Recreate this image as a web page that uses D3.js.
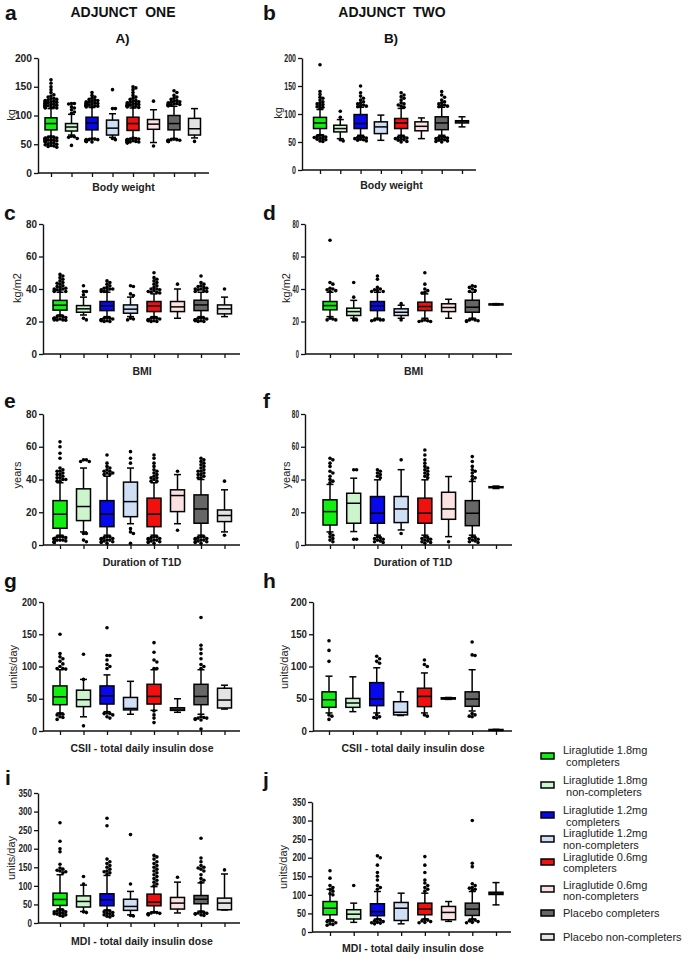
<!DOCTYPE html>
<html>
<head>
<meta charset="utf-8">
<script src="https://cdn.jsdelivr.net/npm/d3@7"></script>
<style>
  body { margin: 0; background: #fff; }
  svg { display: block; font-family: "Liberation Sans", Arial, sans-serif; }
</style>
</head>
<body>
<svg id="chart" width="688" height="962"></svg>
<script>
// groups, in plotting order
const groups = [
  "Liraglutide 1.8mg completers", "Liraglutide 1.8mg non-completers",
  "Liraglutide 1.2mg completers", "Liraglutide 1.2mg non-completers",
  "Liraglutide 0.6mg completers", "Liraglutide 0.6mg non-completers",
  "Placebo completers", "Placebo non-completers"
];
const fills = ["#12ee12", "#cdf5cd", "#0808ee", "#cfe0f6", "#f01010", "#fbe1e1", "#676767", "#e4e4e4"];

// box stats per group: [whisker low, q1, median, q3, whisker high]
// a) body weight, adjunct one
const bwOneStats = [[64,75,86,96,112],[66,73,80,86,102],[60,75,87,97,114],[62,66,78,92,103],
                    [60,74,86,97,113],[53,76,85,93,110],[60,75,86,100,116],[61,66,77,95,112]];
const bwOneOut = [
  [113,113,114,114,115,115,116,116,117,117,118,118,119,119,120,120,121,121,122,122,123,124,124,125,125,126,127,128,129,130,132,134,136,140,145,150,156,162,
   63,62,62,61,61,60,60,59,59,58,58,57,57,56,56,55,55,54,53,52,51,50,49,48,47,46,45],
  [104,106,110,113,115,120,121,121,63,62,64,60,48],
  [115,115,116,116,117,117,118,118,119,119,120,120,121,121,122,122,123,124,125,126,127,128,130,132,135,140,
   59,59,58,58,57,57,56,56,55,55,55,54,56,58,57],
  [145,112,112,60,58],
  [114,115,115,116,116,117,117,118,118,119,120,120,121,122,123,124,125,126,128,130,132,135,140,145,148,150,
   61,60,59,59,58,58,57,57,56,56,55,55,54,54,53,52,55,57],
  [125,47],
  [117,117,118,118,119,119,120,120,121,122,123,124,125,126,128,130,132,135,140,143,
   59,58,58,57,57,56,56,55,55,55,56,57],
  [55]
];
// b) body weight, adjunct two
const bwTwoStats = [[63,74,84,94,108],[56,68,74,80,90],[62,74,83,99,112],[53,65,77,86,98],
                    [62,74,84,92,110],[56,70,78,86,93],[62,72,84,95,112],[77,84,86,88,95]];
const bwTwoOut = [
  [110,112,113,115,117,118,120,122,125,128,130,135,140,188,62,61,60,59,58,57,56,55,54,52,51],
  [105,94,54,52],
  [113,114,115,116,118,120,122,125,128,132,138,150,60,59,58,57,56,55,54,53,52],
  [],
  [112,114,116,118,120,125,128,131,134,138,60,59,58,57,56,55,54,53,51,50],
  [],
  [113,114,115,116,118,120,122,125,130,134,140,60,59,58,57,56,55,54,53,52,51,50],
  []
];
// c) BMI, adjunct one
const bmiOneStats = [[24,27,30,33,38],[24,25.7,27.8,29.8,35],[23,26.7,29.6,32.3,38],[23,25.1,27.6,30.2,35],
                     [23,26.1,29.6,32.3,37],[22,26.1,29,32.3,40],[23,26.7,30.2,33.1,38],[23,24.7,27.8,30.2,35]];
const bmiOneOut = [
  [38.5,38.5,39,39,39.5,40,40,40.5,41,41.5,42,43,43.5,44,45,46,47,48,49,23.5,23,23,22.5,22,22,21.5,21.5,21,21,20.8,21,22],
  [42,38.5,38.5,36.5,22,21],
  [38.5,38.5,39,39.5,40,40,40.5,41,42,43,44,45,22.5,22,22,21.5,21,21,20.5,20.5,20,20,21],
  [42,41.5,37,36,22,21.5,21],
  [37.5,38,38,38.5,39,39.5,40,40,41,42,43,44,45,46,47,50,22.5,22,22,21.5,21,21,20.5,20.5,20,20,21],
  [43],
  [38.5,38.5,39,39.5,40,40,40.5,41,41.5,42,43,44,48,22.5,22,22,21.5,21,21,20.5,20.5,20,20,21],
  [40]
];
// d) BMI, adjunct two
const bmiTwoStats = [[23,27.2,29.8,32.3,38],[22,23.7,26.1,28.2,33],[22,26.7,29.6,32.3,38],[22,23.7,25.7,27.8,30],
                     [22,26.7,29.2,31.9,37],[22,26.1,28.6,30.9,33.7],[22,25.7,28.8,33.1,38],[30.2,30.4,30.6,30.8,31]];
const bmiTwoOut = [
  [70,44,43,38.5,39,39.5,40,40.5,22,21.5,21,21],
  [44,35,21,21],
  [48,46,41,40,39.5,39,38.5,38.5,21.5,21,21,21,20.5],
  [31,21],
  [50,43,40,39,38,37.5,21,20.5,20.5,20,20],
  [],
  [42,41.5,41,40,39,38.5,21.5,21,21,20.5,20.5,20],
  []
];
// e) duration of T1D, adjunct one
const durOneStats = [[6,10.2,18.8,27.1,38],[8,14.9,23.5,34.3,47],[6,11.2,18.8,27.1,42],[13,17.3,26.5,38.4,47],
                     [6,11.2,18.8,28.6,38],[13,20.4,30.2,33.7,43],[6,13.3,22,30.6,40],[8,14.3,18,21.4,33.7]];
const durOneOut = [
  [39,39,40,40,41,41,42,43,43,44,45,45,46,47,53,56,60,63,5,5,4.5,4,4,3.5,3,3,2.5,2,2,1.5,5,4,3,2,1.5],
  [52,52,51,51,7,7,3,2],
  [43,43,44,44,45,45,46,47,48,50,55,5,5,4.5,4,4,3.5,3,3,2.5,2,2,1.5,1],
  [57,53,50,10,8,7,1],
  [39,39,40,41,41,42,43,44,45,46,48,50,53,55,5,5,4.5,4,4,3.5,3,3,2.5,2,2,1.5,1],
  [45,9],
  [41,41,42,43,43,44,45,45,46,47,48,49,50,51,52,53,5,5,4.5,4,4,3.5,3,3,2.5,2,2,1.5,1],
  [39,6]
];
// f) duration of T1D, adjunct two
const durTwoStats = [[8,12.2,20.4,27.6,37],[8.2,13.3,25.5,31.6,40.8],[6,13.3,19.4,29.6,39.8],[9.2,13.7,22,29.6,46],
                     [6,13.3,19.4,28.6,39.8],[5.1,15.7,22,32.2,41.8],[6,11.8,19.4,27.1,38.8],[34.5,35,35.3,35.6,36]];
const durTwoOut = [
  [38,39,40,42,44,45,48,50,52,53,7,6,5,4,3,2],
  [46,46,3.5,3.5],
  [41,42,43,44,45,46,5,4.5,4,3.5,3,2.5,2,1.5],
  [52,7],
  [41,42,43,44,45,46,47,48,50,52,55,58,5,4.5,4,3.5,3,2.5,2,1.5,1],
  [2],
  [40,41,42,44,45,46,48,51,54,5,4.5,4,3.5,3,2.5,2,1.5],
  []
];
// g) CSII total daily insulin dose, adjunct one
const csiiOneStats = [[28,40.8,53,69.9,95],[22,37.8,48.5,63.3,80],[30,41.8,54.6,69.9,87],[26,32.7,35,52,77],
                      [32,41.8,53.6,72.4,95],[29,32,34,36,50],[26,40.8,53.6,72.4,95],[34,35.7,48,66.3,71]];
const csiiOneOut = [
  [150,120,115,112,108,104,100,97,97,96,27,26,25,22,21,18],
  [119,80,8],
  [160,117,117,110,103,100,97,28,27,27,25,22,20],
  [],
  [137,122,110,107,97,97,31,25,20,13],
  [],
  [176,133,127,120,112,103,100,97,22,21,20,20,19,18,17,3],
  []
];
// h) CSII total daily insulin dose, adjunct two
const csiiTwoStats = [[28,36.7,48.5,60.7,85],[30,36.7,43.4,50.5,84],[28,39.3,49.5,75,98],[24,25,29,45.4,60.7],
                      [28,37.8,53.6,66.3,90],[49,49.5,50.5,51.5,52],[31,38.3,49.5,60.7,95],[1.5,1.8,2,2.3,2.5]];
const csiiTwoOut = [
  [140,125,108,25,23,18],
  [],
  [116,112,108,105,25,22,21,20],
  [],
  [110,103,100,25,23],
  [],
  [138,118,117,27,25,23,22],
  []
];
// i) MDI total daily insulin dose, adjunct one
const mdiOneStats = [[38,47.3,63.4,80.4,130],[31,43,58,73,102],[35,46.4,62.5,78.6,128],[22,34,44.6,64,85],
                     [30,46.4,56,77.7,98],[27,37.5,53.6,68.8,110],[32,51.8,64,74,108],[35,35.7,53.6,67,132]];
const mdiOneOut = [
  [270,220,200,192,158,148,145,142,140,138,135,36,34,32,30,28,26,24,22,20,18,30,25],
  [125,105,30,28],
  [282,262,172,165,160,155,150,145,140,138,135,132,34,32,30,28,26,24,22,20,18,16],
  [238,105,20,19],
  [182,178,172,165,160,155,150,145,140,135,130,125,120,115,110,105,100,29,28,27,26,25,24,23,22],
  [123],
  [228,175,165,155,150,148,145,140,130,120,115,110,30,28,27,26,25,24,22,20],
  [143]
];
// j) MDI total daily insulin dose, adjunct two
const mdiTwoStats = [[33,46.4,64,82,115],[26,35,48,60,77.7],[35,43.8,55,76,109],[22,31,64,79.5,104.5],
                     [35,46.4,61.6,77.7,104.5],[28.6,33,52.7,68.8,82],[35,44.6,61.6,77.7,109],[73,101,104.5,107,133]];
const mdiTwoOut = [
  [165,145,125,120,115,110,103,100,31,30,28,25,22,20,18],
  [125],
  [205,200,180,160,150,140,125,120,115,34,32,30,28,26,25,24,22],
  [],
  [203,180,160,140,132,125,120,115,110,34,32,30,28,26,25],
  [],
  [300,185,176,130,125,120,118,115,112,34,32,30,28,26,25],
  []
];

const legendLines = [
  ["Liraglutide 1.8mg", " completers"], ["Liraglutide 1.8mg", " non-completers"],
  ["Liraglutide 1.2mg", " completers"], ["Liraglutide 1.2mg", "non-completers"],
  ["Liraglutide 0.6mg", "completers"], ["Liraglutide 0.6mg", "non-completers"],
  ["Placebo completers"], ["Placebo non-completers"]
];

// panel layout (cw = width per tick-label character)
const panels = [
  {L:'a', stats:bwOneStats, out:bwOneOut, max:200, ticks:[0,50,100,150,200], unit:'kg', title:'Body weight',
   ax:38, x0:51, x1:194.5, xEnd:209, yTop:58, yBot:173, bw:12, lx:5, ly:20, ux:11, uy:115, tx:123.5, ty:191, cw:5.7},
  {L:'b', stats:bwTwoStats, out:bwTwoOut, max:200, ticks:[0,50,100,150,200], unit:'kg', title:'Body weight',
   ax:302, x0:320, x1:462, xEnd:476, yTop:58, yBot:170, bw:13, lx:263, ly:20, ux:278, uy:113, tx:391.5, ty:189, cw:3.9},
  {L:'c', stats:bmiOneStats, out:bmiOneOut, max:80, ticks:[0,20,40,60,80], unit:'kg/m2', title:'BMI',
   ax:43, x0:60, x1:224.5, xEnd:240, yTop:224, yBot:354, bw:14, lx:4, ly:220, ux:17, uy:288, tx:142, ty:375, cw:5.5},
  {L:'d', stats:bmiTwoStats, out:bmiTwoOut, max:80, ticks:[0,20,40,60,80], unit:'kg/m2', title:'BMI',
   ax:305, x0:330, x1:496, xEnd:512, yTop:224, yBot:354, bw:14, lx:263, ly:220, ux:286, uy:288, tx:413.5, ty:375, cw:3.2},
  {L:'e', stats:durOneStats, out:durOneOut, max:80, ticks:[0,20,40,60,80], unit:'years', title:'Duration of T1D',
   ax:43, x0:60, x1:224.5, xEnd:240, yTop:414, yBot:545, bw:14, lx:4, ly:408, ux:17, uy:475, tx:142, ty:566, cw:5.5},
  {L:'f', stats:durTwoStats, out:durTwoOut, max:80, ticks:[0,20,40,60,80], unit:'years', title:'Duration of T1D',
   ax:305, x0:330, x1:496, xEnd:512, yTop:414, yBot:545, bw:14, lx:263, ly:408, ux:286, uy:475, tx:413, ty:566, cw:3.6},
  {L:'g', stats:csiiOneStats, out:csiiOneOut, max:200, ticks:[0,50,100,150,200], unit:'units/day', title:'CSII - total daily insulin dose',
   ax:43, x0:60, x1:224.5, xEnd:240, yTop:602, yBot:731, bw:14, lx:4, ly:588, ux:13, uy:667, tx:142, ty:752, cw:5},
  {L:'h', stats:csiiTwoStats, out:csiiTwoOut, max:200, ticks:[0,50,100,150,200], unit:'units/day', title:'CSII - total daily insulin dose',
   ax:313, x0:329, x1:496, xEnd:512, yTop:602, yBot:731, bw:14, lx:263, ly:588, ux:284, uy:667, tx:413, ty:752, cw:5.4},
  {L:'i', stats:mdiOneStats, out:mdiOneOut, max:350, ticks:[0,50,100,150,200,250,300,350], unit:'units/day', title:'MDI - total daily insulin dose',
   ax:38, x0:60, x1:224.5, xEnd:240, yTop:793, yBot:923, bw:14, lx:5, ly:785, ux:11, uy:858, tx:142, ty:945, cw:4.5},
  {L:'j', stats:mdiTwoStats, out:mdiTwoOut, max:350, ticks:[0,50,100,150,200,250,300,350], unit:'units/day', title:'MDI - total daily insulin dose',
   ax:312, x0:330, x1:496, xEnd:511, yTop:802, yBot:932, bw:14, lx:263, ly:787, ux:283, uy:867, tx:413, ty:952, cw:4.5}
];

const svg = d3.select('#chart');
const R = 1.8;

// simple beeswarm offsets for the outlier dots of one box
function swarm(vals, y, maxDx) {
  const placed = [];
  const pts = vals.map(v => ({v, py: y(v)})).sort((a, b) => a.py - b.py);
  pts.forEach(p => {
    let dx = 0;
    for (let k = 0; k < 30; k++) {
      const c = (k % 2 ? 1 : -1) * Math.ceil(k / 2) * R * 1.6;
      if (Math.abs(c) > maxDx) break;
      const hit = placed.some(q => Math.abs(q.py - p.py) < R * 1.5 && Math.abs(q.dx - c) < R * 1.5);
      dx = c;
      if (!hit) break;
    }
    p.dx = dx;
    placed.push(p);
  });
  return pts;
}

panels.forEach(p => {
  const y = d3.scaleLinear().domain([0, p.max]).range([p.yBot, p.yTop]);
  const x = d3.scalePoint().domain(d3.range(groups.length)).range([p.x0, p.x1]);
  const g = svg.append('g');

  // y axis
  const ya = g.append('g')
    .attr('transform', `translate(${p.ax},0)`)
    .call(d3.axisLeft(y).tickValues(p.ticks).tickSize(4).tickSizeOuter(0).tickPadding(2));
  ya.select('.domain').attr('stroke', '#111').attr('stroke-width', 1.4);
  ya.selectAll('.tick line').attr('stroke', '#111').attr('stroke-width', 1.3);
  ya.selectAll('.tick text').attr('font-size', 10).attr('font-weight', 'bold').attr('fill', '#222')
    .attr('font-family', '"Liberation Sans", Arial, sans-serif')
    .attr('textLength', d => String(d).length * p.cw).attr('lengthAdjust', 'spacingAndGlyphs');

  // x axis
  const xa = g.append('g')
    .attr('transform', `translate(0,${p.yBot})`)
    .call(d3.axisBottom(x).tickSize(4).tickSizeOuter(0).tickFormat(''));
  xa.select('.domain').remove();
  xa.selectAll('.tick line').attr('stroke', '#111').attr('stroke-width', 1.3);
  g.append('line').attr('x1', p.ax).attr('x2', p.xEnd).attr('y1', p.yBot).attr('y2', p.yBot)
    .attr('stroke', '#111').attr('stroke-width', 1.4);

  // boxes
  const box = g.selectAll('g.box').data(p.stats).join('g').attr('class', 'box')
    .attr('transform', (d, i) => `translate(${x(i)},0)`);
  const cap = 3.5;
  box.append('line').attr('y1', d => y(d[0])).attr('y2', d => y(d[4]))
    .attr('stroke', '#000').attr('stroke-width', 1.5);
  box.append('line').attr('x1', -cap).attr('x2', cap).attr('y1', d => y(d[0])).attr('y2', d => y(d[0]))
    .attr('stroke', '#000').attr('stroke-width', 1.5);
  box.append('line').attr('x1', -cap).attr('x2', cap).attr('y1', d => y(d[4])).attr('y2', d => y(d[4]))
    .attr('stroke', '#000').attr('stroke-width', 1.5);
  box.append('rect')
    .attr('x', -p.bw / 2).attr('width', p.bw)
    .attr('y', d => y(d[3])).attr('height', d => Math.max(1, y(d[1]) - y(d[3])))
    .attr('fill', (d, i) => fills[i]).attr('stroke', '#000').attr('stroke-width', 1.5);
  box.append('line').attr('x1', -p.bw / 2).attr('x2', p.bw / 2)
    .attr('y1', d => y(d[2])).attr('y2', d => y(d[2]))
    .attr('stroke', '#000').attr('stroke-width', 1.5);

  // outliers
  p.out.forEach((vals, i) => {
    const pts = swarm(vals, y, p.bw / 2);
    g.selectAll(null).data(pts).join('circle')
      .attr('cx', d => x(i) + d.dx).attr('cy', d => d.py).attr('r', R).attr('fill', '#000');
  });

  // labels
  g.append('text').attr('x', p.lx).attr('y', p.ly).attr('font-size', 21).attr('font-weight', 'bold')
    .attr('fill', '#111').text(p.L);
  g.append('text').attr('transform', `translate(${p.ux},${p.uy}) rotate(-90)`)
    .attr('text-anchor', 'middle').attr('dy', '0.35em').attr('font-size', 11).attr('fill', '#222').text(p.unit);
  g.append('text').attr('x', p.tx).attr('y', p.ty).attr('text-anchor', 'middle')
    .attr('font-size', 10.5).attr('font-weight', 'bold').attr('fill', '#222').text(p.title);
});

// column headers
svg.append('text').attr('x', 123).attr('y', 17).attr('text-anchor', 'middle').style('white-space', 'pre')
  .attr('font-size', 14).attr('font-weight', 'bold').attr('fill', '#111').text('ADJUNCT  ONE');
svg.append('text').attr('x', 122.5).attr('y', 43).attr('text-anchor', 'middle')
  .attr('font-size', 13.5).attr('font-weight', 'bold').attr('fill', '#111').text('A)');
svg.append('text').attr('x', 392).attr('y', 17).attr('text-anchor', 'middle').style('white-space', 'pre')
  .attr('font-size', 14).attr('font-weight', 'bold').attr('fill', '#111').text('ADJUNCT  TWO');
svg.append('text').attr('x', 391).attr('y', 43).attr('text-anchor', 'middle')
  .attr('font-size', 13.5).attr('font-weight', 'bold').attr('fill', '#111').text('B)');

// legend
const swatchY = [756, 785, 815, 839, 862, 889, 913, 937];
const lineY = [[754, 766], [784, 796], [814, 826], [837, 849], [861, 872], [889, 900], [917], [941]];
const leg = svg.append('g');
legendLines.forEach((lines, i) => {
  leg.append('rect').attr('x', 541).attr('y', swatchY[i] - 3).attr('width', 13).attr('height', 6)
    .attr('fill', fills[i]).attr('stroke', '#000').attr('stroke-width', 1.5);
  lines.forEach((t, k) => {
    leg.append('text').attr('x', 563).attr('y', lineY[i][k]).style('white-space', 'pre')
      .attr('font-size', 11).attr('fill', '#222').text(t);
  });
});
</script>
</body>
</html>
